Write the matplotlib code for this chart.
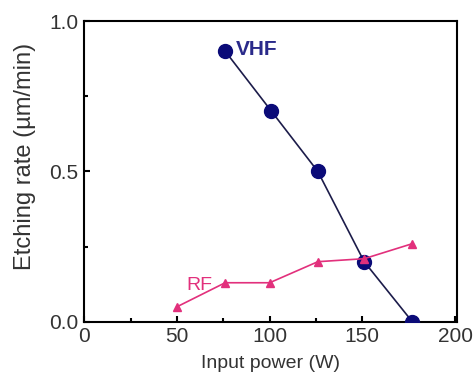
import matplotlib
matplotlib.use('Agg')
import matplotlib.pyplot as plt
from matplotlib.ticker import MultipleLocator

plt.rcParams['font.family'] = ['Liberation Sans', 'DejaVu Sans']

# data
vhf_power = [76, 101, 126, 151, 177]
vhf_rate = [0.90, 0.70, 0.50, 0.20, 0.0]
rf_power = [50, 76, 100, 126, 151, 177]
rf_rate = [0.05, 0.13, 0.13, 0.20, 0.21, 0.26]

navy = '#0b0b78'
pink = '#e2307c'
txt = '#333333'

fig = plt.figure(figsize=(4.73, 3.76), dpi=100)
ax = fig.add_axes([0.178, 0.144, 0.788, 0.800])

ax.plot(vhf_power, vhf_rate, '-', color='#1c1c4a', lw=1.2, zorder=2)
ax.plot(vhf_power, vhf_rate, 'o', color=navy, ms=10, zorder=3)
ax.plot(rf_power, rf_rate, '-^', color=pink, lw=1.2, ms=5.5, zorder=4)

ax.text(82, 0.905, 'VHF', color='#2a2a8a', fontsize=15, fontweight='bold',
        va='center', ha='left')
ax.text(69, 0.122, 'RF', color=pink, fontsize=14, va='center', ha='right')

ax.set_xlim(0, 201)
ax.set_ylim(0, 1.0)
ax.xaxis.set_major_locator(MultipleLocator(50))
ax.xaxis.set_minor_locator(MultipleLocator(25))
ax.yaxis.set_major_locator(MultipleLocator(0.5))
ax.yaxis.set_minor_locator(MultipleLocator(0.25))
ax.yaxis.set_major_formatter(plt.FormatStrFormatter('%.1f'))
ax.tick_params(which='both', direction='in', labelsize=15, width=1.5,
               labelcolor=txt)
ax.tick_params(which='major', length=4, pad=4)
ax.tick_params(which='minor', length=3)
for s in ax.spines.values():
    s.set_linewidth(1.5)

ax.set_xlabel('Input power (W)', fontsize=14, labelpad=6, color=txt)
ax.set_ylabel('Etching rate (\u00b5m/min)', fontsize=17, labelpad=6, color=txt)
ax.yaxis.set_label_coords(-0.13, 0.55)

fig.savefig('out.png', dpi=100)
